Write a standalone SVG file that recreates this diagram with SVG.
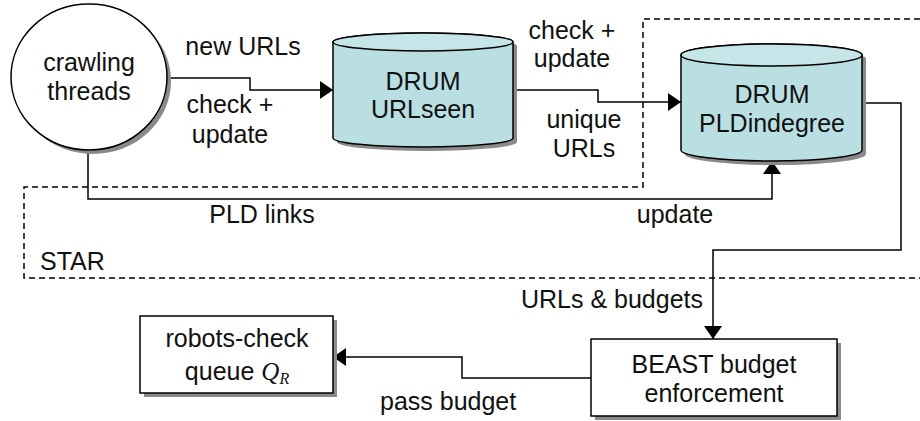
<svg xmlns="http://www.w3.org/2000/svg" width="920" height="421" viewBox="0 0 920 421">
  <defs>
    <marker id="arr" viewBox="0 0 13 18" refX="13" refY="9" markerWidth="13" markerHeight="18" markerUnits="userSpaceOnUse" orient="auto">
      <path d="M0,0 L13,9 L0,18 Z" fill="#000"/>
    </marker>
  </defs>
  <style>
    text { font-family: "Liberation Sans", Arial, sans-serif; font-size: 25px; fill: #111; }
    .mid { text-anchor: middle; }
    .shadow { fill: #8a8a8a; stroke: none; }
    .node { fill: #fff; stroke: #000; stroke-width: 1.5; }
    .cyl { fill: #b9dfe3; stroke: #000; stroke-width: 1.5; }
    .cyltop { fill: #c6e5e8; stroke: #000; stroke-width: 1.5; }
    .conn { fill: none; stroke: #000; stroke-width: 1.5; }
    .dash { fill: none; stroke: #000; stroke-width: 1.5; stroke-dasharray: 6 4; }
    .math { font-family: "Liberation Serif", "Times New Roman", serif; font-style: italic; }
  </style>

  <!-- STAR region -->
  <g id="star">
    <path class="dash" d="M920,19 H643 V187 H24 V278 H920"/>
    <text x="40" y="270">STAR</text>
  </g>

  <!-- connectors -->
  <g id="connectors">
    <path class="conn" d="M167,78 H250 V90 H333" marker-end="url(#arr)"/>
    <path class="conn" d="M513,90 H598 V102 H681" marker-end="url(#arr)"/>
    <path class="conn" d="M88,150 V199 H772 V161" marker-end="url(#arr)"/>
    <path class="conn" d="M862,103 H901 V250 H713 V339" marker-end="url(#arr)"/>
    <path class="conn" d="M591,378 H462 V357 H333" marker-end="url(#arr)"/>
    <text class="mid" x="243" y="55">new URLs</text>
    <text class="mid" x="230" y="113">check +</text>
    <text class="mid" x="230" y="143">update</text>
    <text class="mid" x="572" y="39">check +</text>
    <text class="mid" x="572" y="67">update</text>
    <text class="mid" x="584" y="128">unique</text>
    <text class="mid" x="584" y="157">URLs</text>
    <text class="mid" x="262" y="223">PLD links</text>
    <text class="mid" x="675" y="223">update</text>
    <text x="703" y="308" text-anchor="end">URLs &amp; budgets</text>
    <text x="380" y="410">pass budget</text>
  </g>

  <!-- crawling threads -->
  <g id="crawling-threads">
    <ellipse class="shadow" cx="93" cy="81" rx="78" ry="73"/>
    <ellipse class="node" cx="89" cy="77" rx="78" ry="73"/>
    <text class="mid" x="89" y="71">crawling</text>
    <text class="mid" x="89" y="100">threads</text>
  </g>

  <!-- DRUM URLseen -->
  <g id="drum-urlseen">
    <path class="shadow" transform="translate(4,4)" d="M333,42 L333,138 A90,9 0 0 0 513,138 L513,42 A90,9 0 0 0 333,42 Z"/>
    <path class="cyl" d="M333,42 L333,138 A90,9 0 0 0 513,138 L513,42 A90,9 0 0 0 333,42 Z"/>
    <ellipse class="cyltop" cx="423" cy="42" rx="90" ry="9"/>
    <text class="mid" x="423" y="90">DRUM</text>
    <text class="mid" x="423" y="118">URLseen</text>
  </g>

  <!-- DRUM PLDindegree -->
  <g id="drum-pldindegree">
    <path class="shadow" transform="translate(4,4)" d="M681,55 L681,150 A90.5,11 0 0 0 862,150 L862,55 A90.5,11 0 0 0 681,55 Z"/>
    <path class="cyl" d="M681,55 L681,150 A90.5,11 0 0 0 862,150 L862,55 A90.5,11 0 0 0 681,55 Z"/>
    <ellipse class="cyltop" cx="771.5" cy="55" rx="90.5" ry="11"/>
    <text class="mid" x="772" y="103">DRUM</text>
    <text class="mid" x="772" y="132">PLDindegree</text>
  </g>

  <!-- BEAST -->
  <g id="beast">
    <rect class="shadow" x="595" y="343" width="246" height="77"/>
    <rect class="node" x="591" y="339" width="246" height="77"/>
    <text class="mid" x="714" y="373">BEAST budget</text>
    <text class="mid" x="714" y="402">enforcement</text>
  </g>

  <!-- robots-check queue -->
  <g id="robots-queue">
    <rect class="shadow" x="144" y="320" width="193" height="77"/>
    <rect class="node" x="140" y="316" width="193" height="77"/>
    <text class="mid" x="237" y="347">robots-check</text>
    <text class="mid" x="237" y="380">queue <tspan class="math">Q</tspan><tspan class="math" font-size="16" dy="4">R</tspan></text>
  </g>
</svg>
